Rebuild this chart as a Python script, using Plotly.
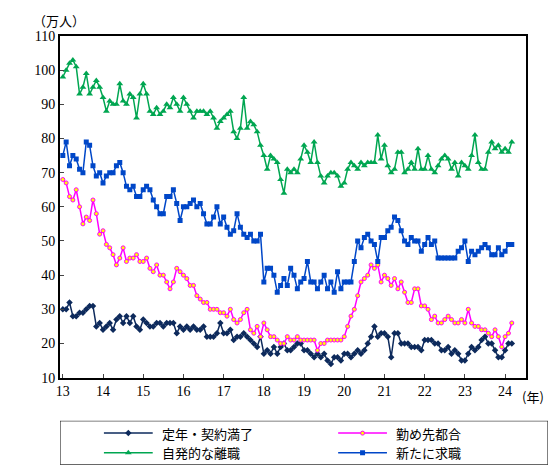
import plotly.graph_objects as go

# monthly values, Jan 2013 - Mar 2024 (10k persons)
teinen = [30,30,32,28,28,29,29,30,31,31,25,26,
          24,25,26,24,27,28,26,28,26,28,25,24,
          27,26,25,25,26,26,25,26,26,26,23,25,
          24,25,24,25,24,24,25,22,22,22,23,26,
          23,23,24,21,22,22,23,22,21,20,19,22,
          17,18,17,19,17,19,20,18,18,19,20,20,
          18,18,17,16,17,16,17,15,14,16,16,15,
          17,17,16,17,18,17,18,20,22,25,22,23,
          23,22,16,23,23,20,20,20,19,19,19,18,
          21,21,21,20,20,18,18,19,17,18,17,15,
          15,17,19,18,19,21,22,20,20,18,16,16,
          18,20,20]
tsutome = [68,67,63,62,65,60,55,57,56,62,58,52,
           53,49,48,46,43,45,48,44,45,45,46,44,
           44,45,42,41,43,40,40,38,36,38,42,41,
           40,39,37,37,34,33,32,32,30,30,30,29,
           29,28,30,27,26,27,29,30,24,23,25,22,
           26,24,22,22,21,20,20,22,21,21,22,21,
           21,21,21,21,18,20,20,21,21,21,21,21,
           22,25,28,30,34,38,39,40,43,42,43,38,
           40,39,37,39,36,38,35,32,32,36,36,31,
           31,30,27,28,26,26,27,28,27,26,26,27,
           26,30,26,25,25,24,24,23,22,24,22,19,
           22,23,26]
jihatsu = [98,100,102,103,101,93,95,99,93,95,97,95,
           92,88,91,90,90,96,91,90,93,92,86,93,
           96,93,88,87,89,87,88,90,89,92,90,88,
           92,90,88,86,88,88,88,87,88,86,83,85,
           86,87,88,82,80,83,92,83,85,84,82,78,
           75,71,75,74,73,68,64,71,70,71,70,74,
           78,76,73,79,73,69,67,69,70,70,69,66,
           67,71,73,72,71,73,72,73,73,73,81,74,
           78,72,70,71,76,76,70,71,73,71,77,71,
           71,75,71,70,72,74,75,74,71,73,69,73,
           72,71,75,81,73,71,71,76,79,77,78,76,
           77,76,79]
arata = [75,79,72,75,74,71,70,79,78,72,69,70,
         67,69,70,70,72,73,70,66,65,66,63,63,
         65,66,65,62,60,58,58,63,63,65,61,56,
         60,60,61,62,60,61,58,55,55,57,60,55,
         57,54,52,53,58,54,52,51,52,50,50,52,
         38,42,42,40,35,37,39,37,42,40,36,38,
         39,44,38,38,36,38,40,36,38,35,41,36,
         38,38,38,44,50,48,51,52,50,49,44,51,
         51,53,54,57,56,53,50,49,51,50,50,47,
         49,51,49,50,45,45,45,45,45,45,47,48,
         50,44,47,46,47,48,49,48,46,46,48,46,
         47,49,49]

x = [13 + i / 12 for i in range(len(teinen))]
font = "Noto Sans CJK JP"

series = [
    ("定年・契約満了", teinen, "#0d2a5c", dict(symbol="diamond", size=5, color="#0d2a5c")),
    ("勤め先都合", tsutome, "#ff00ff", dict(symbol="circle", size=4, color="#ffff00",
                                         line=dict(color="#ff00ff", width=1))),
    ("自発的な離職", jihatsu, "#00a651", dict(symbol="triangle-up", size=6, color="#00a651")),
    ("新たに求職", arata, "#0047c8", dict(symbol="square", size=5, color="#0047c8")),
]

fig = go.Figure()
for name, vals, col, mk in series:
    fig.add_trace(go.Scatter(x=x, y=vals, name=name, mode="lines+markers",
                             line=dict(color=col, width=1.5), marker=mk))

# hand-made legend in its own axes below the plot
legend_pos = [(0.09, 0.72), (0.57, 0.72), (0.09, 0.27), (0.57, 0.27)]
annos = []
for (name, vals, col, mk), (lx, ly) in zip(series, legend_pos):
    fig.add_trace(go.Scatter(x=[lx, lx + 0.1], y=[ly, ly], mode="lines",
                             line=dict(color=col, width=1.5),
                             xaxis="x2", yaxis="y2", hoverinfo="skip"))
    fig.add_trace(go.Scatter(x=[lx + 0.05], y=[ly], mode="markers", marker=mk,
                             xaxis="x2", yaxis="y2", hoverinfo="skip"))
    annos.append(dict(text=name, x=lx + 0.115, y=ly, xref="x2", yref="y2",
                      xanchor="left", showarrow=False, font=dict(size=13)))

fig.update_layout(
    width=558, height=466, margin=dict(l=52, r=18, t=28, b=0),
    plot_bgcolor="white", paper_bgcolor="white",
    font=dict(family=font, size=13, color="black"),
    showlegend=False,
    xaxis=dict(domain=[0, 466 / 488], range=[12.93, 24.52], tickvals=list(range(13, 25)),
               ticks="inside", ticklen=4, showgrid=False,
               showline=True, linecolor="black", linewidth=2, mirror=True,
               tickfont=dict(family="Liberation Serif", size=14)),
    yaxis=dict(domain=[90 / 438, 1], range=[10, 110], dtick=10, ticks="inside", ticklen=4,
               showgrid=False, showline=True, linecolor="black", linewidth=2, mirror=True,
               tickfont=dict(family="Liberation Serif", size=14)),
    xaxis2=dict(domain=[0, 1], range=[0, 1], visible=False, anchor="y2"),
    yaxis2=dict(domain=[0.003, 46 / 438], range=[0, 1], visible=False, anchor="x2"),
    shapes=[dict(type="rect", xref="x2", yref="y2", x0=0, x1=1, y0=0, y1=1,
                 line=dict(color="black", width=1))],
    annotations=annos + [
        dict(text="（万人）", xref="paper", yref="paper", x=-0.06, y=1.01,
             xanchor="left", yanchor="bottom", showarrow=False, font=dict(size=13)),
        dict(text="(年)", xref="paper", yref="paper", x=0.943, y=(90 - 8) / 438,
             xanchor="left", yanchor="top", showarrow=False, font=dict(size=13)),
    ],
)

fig.write_html("out.html")
